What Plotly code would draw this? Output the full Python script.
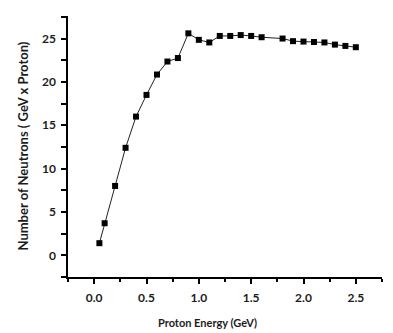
import plotly.graph_objects as go

energy = [0.05, 0.1, 0.2, 0.3, 0.4, 0.5, 0.6, 0.7, 0.8, 0.9, 1.0, 1.1, 1.2, 1.3,
          1.4, 1.5, 1.6, 1.8, 1.9, 2.0, 2.1, 2.2, 2.3, 2.4, 2.5]
neutrons = [1.4, 3.7, 8.0, 12.4, 16.0, 18.5, 20.85, 22.35, 22.75, 25.6, 24.85, 24.55, 25.3, 25.3,
            25.4, 25.3, 25.15, 25.0, 24.7, 24.65, 24.6, 24.55, 24.3, 24.15, 24.0]

x_title = "Proton Energy (GeV)"
y_title = "Number of Neutrons ( GeV x Proton)"

txt = "#1c1c1c"
font = "Lato"

fig = go.Figure()
fig.add_trace(go.Scatter(
    x=energy, y=neutrons, mode="lines+markers",
    line=dict(color="#222222", width=1),
    marker=dict(symbol="square", size=6, color="black"),
    showlegend=False,
))

fig.update_layout(
    width=393, height=333,
    margin=dict(l=68, r=11, t=16, b=56),
    paper_bgcolor="white", plot_bgcolor="white",
    font=dict(family=font, color=txt),
    xaxis=dict(
        range=[-0.25, 2.75], dtick=0.5, tick0=0, tickformat=".1f",
        showgrid=False, zeroline=False,
        showline=True, linecolor="black", linewidth=2,
        ticks="outside", ticklen=5, tickwidth=1.5, tickcolor="black",
        minor=dict(ticks="outside", ticklen=3, tickwidth=1.5, tickcolor="black", dtick=0.25, tick0=0),
        tickfont=dict(family=font, size=12, color=txt, weight="bold"),
        ticklabelstandoff=4,
    ),
    yaxis=dict(
        range=[-2.5, 27.6], dtick=5, tick0=0,
        showgrid=False, zeroline=False,
        showline=True, linecolor="black", linewidth=1.5,
        ticks="outside", ticklen=5, tickwidth=1.5, tickcolor="black",
        minor=dict(ticks="outside", ticklen=5, tickwidth=1.5, tickcolor="black", dtick=2.5, tick0=0),
        tickfont=dict(family=font, size=12, color=txt, weight="bold"),
        ticklabelstandoff=3,
    ),
    annotations=[
        dict(text=x_title, xref="paper", yref="paper", x=(207-68)/314, y=-45/261,
             xanchor="center", yanchor="middle", showarrow=False,
             font=dict(family=font, size=11, color=txt, weight="bold")),
        dict(text=y_title, xref="paper", yref="paper", x=-46/314, y=0.5,
             xanchor="center", yanchor="middle", textangle=-90, showarrow=False,
             font=dict(family=font, size=13, color=txt, weight="bold")),
    ],
)

fig.write_html("out.html")
